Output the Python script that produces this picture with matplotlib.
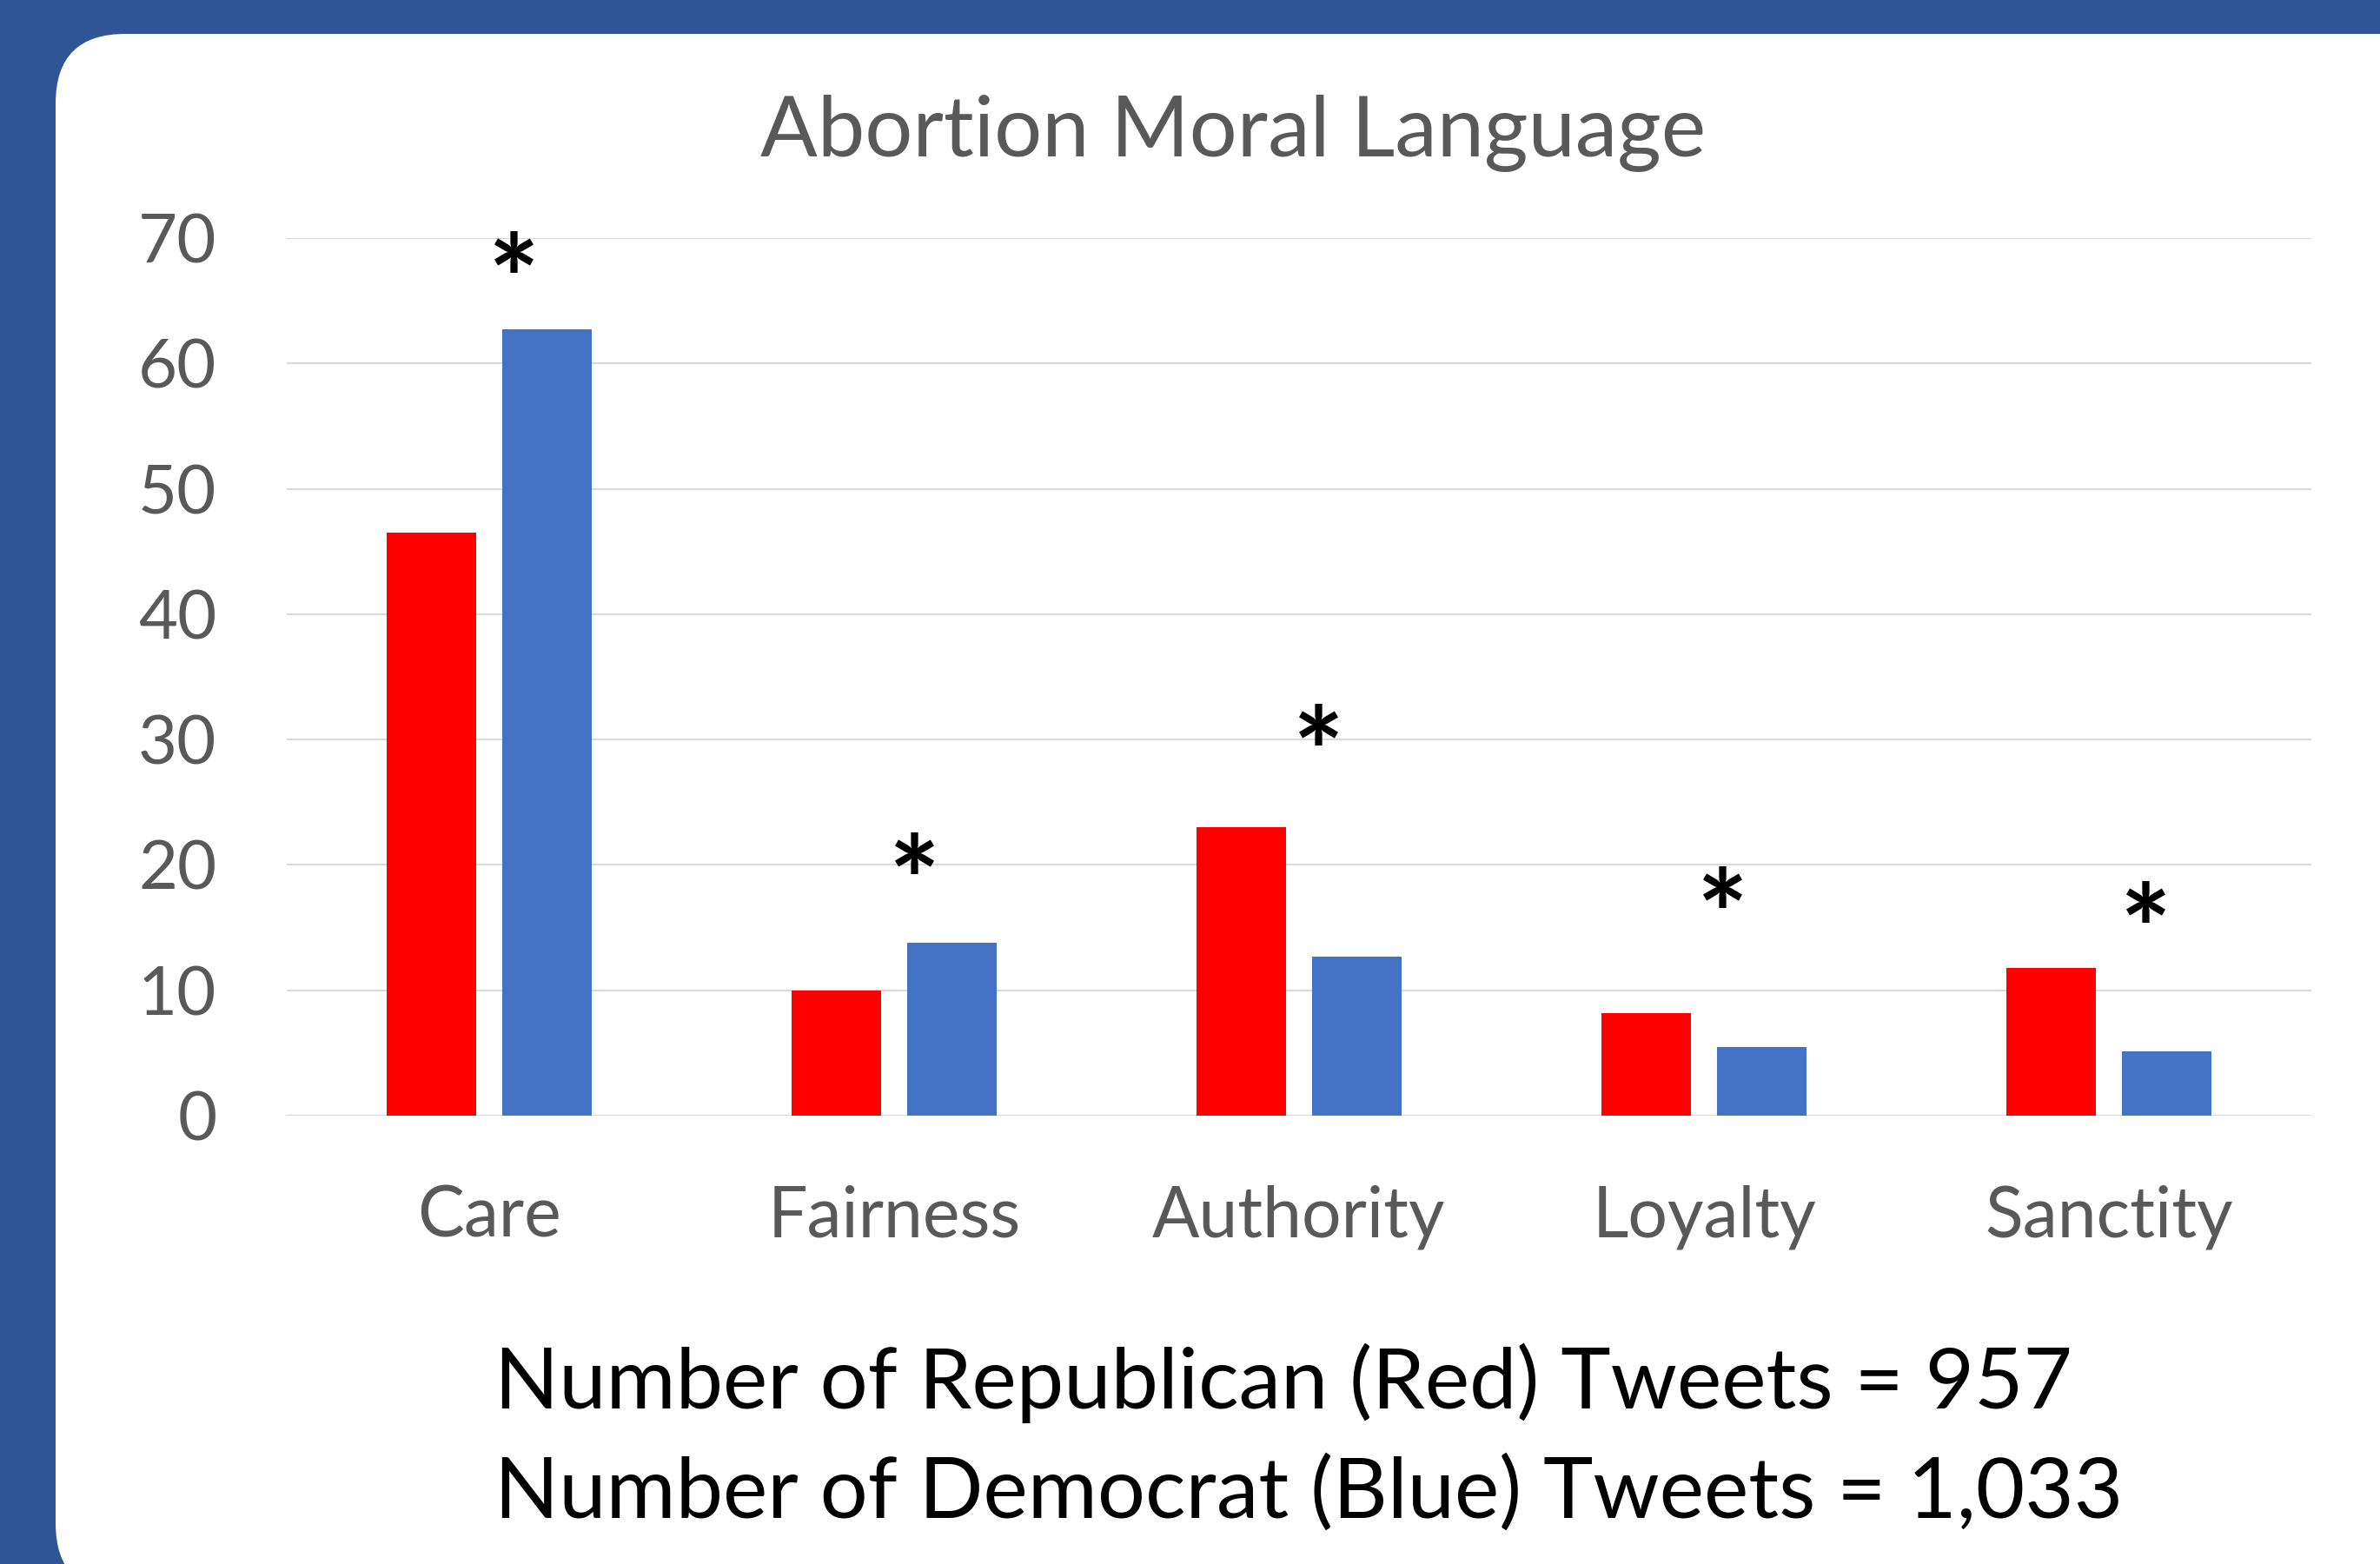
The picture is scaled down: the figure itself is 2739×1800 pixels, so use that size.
import matplotlib
matplotlib.use('Agg')
import matplotlib.pyplot as plt
from matplotlib.patches import FancyBboxPatch
from matplotlib import transforms
import numpy as np

plt.rcParams['font.family'] = ['Lato', 'DejaVu Sans']

# moral foundation word counts per party
categories = ['Care', 'Fairness', 'Authority', 'Loyalty', 'Sanctity']
republican = [46.5, 10.0, 23.0, 8.2, 11.8]
democrat = [62.7, 13.8, 12.7, 5.5, 5.1]

# significance markers (x offset from category centre, y in data units)
star_dx = [0.062, 0.051, 0.049, 0.047, 0.092]
star_y = [68.8, 20.9, 31.1, 18.2, 17.0]

yticks = [0, 10, 20, 30, 40, 50, 60, 70]

title = 'Abortion Moral Language'
note_lines = ['Number of Republican (Red) Tweets = 957',
              'Number of Democrat (Blue) Tweets = 1,033']

W, H = 2739, 1800
fig = plt.figure(figsize=(W / 200, H / 200), dpi=200)
fig.patch.set_facecolor('#2F5597')

# white rounded card behind the chart
bg = fig.add_axes([0, 0, 1, 1])
bg.set_xlim(0, W)
bg.set_ylim(H, 0)
bg.axis('off')
bg.add_patch(FancyBboxPatch((64, 39), 2800, 1794,
                            boxstyle='round,pad=0,rounding_size=80',
                            facecolor='white', edgecolor='none'))

# plot area in pixels: left 330, right 2660, zero line 1284, top line 274
ax = fig.add_axes([330 / W, 1 - 1284 / H, 2330 / W, 1010 / H])
ax.set_facecolor('none')

x = np.arange(len(categories))
bw = 0.221
off = 0.142
ax.bar(x - off, republican, bw, color='#FF0000', zorder=3)
ax.bar(x + off, democrat, bw, color='#4472C4', zorder=3)

ax.set_xlim(-0.5, len(categories) - 0.5)
ax.set_ylim(0, 70)
ax.set_yticks(yticks)
ax.set_yticklabels([str(t) for t in yticks], fontsize=28, color='#595959')
ax.set_xticks([])
ax.tick_params(axis='y', length=0, pad=29)
ax.yaxis.grid(True, color='#D9D9D9', lw=0.8, zorder=0)
ax.set_axisbelow(True)
for s in ax.spines.values():
    s.set_visible(False)

# category labels
tr = transforms.blended_transform_factory(ax.transData, fig.transFigure)
for i, c in enumerate(categories):
    ax.text(i, 1 - 1424 / H, c, transform=tr, ha='center', va='baseline',
            fontsize=29, color='#595959')

# asterisks (the glyph sits high in its box, so pull it down a bit)
star_fs = 50
for i in range(len(categories)):
    ax.annotate('*', (i + star_dx[i], star_y[i]),
                xytext=(0, -0.3 * star_fs), textcoords='offset points',
                ha='center', va='center', fontsize=star_fs,
                fontweight='bold', color='black', zorder=4)

fig.text(1419 / W, 1 - 180 / H, title, ha='center', va='baseline',
         fontsize=35, color='#595959')

fig.text(569 / W, 1 - 1621 / H, note_lines[0], ha='left', va='baseline',
         fontsize=35, color='black')
fig.text(569 / W, 1 - 1747 / H, note_lines[1], ha='left', va='baseline',
         fontsize=35, color='black')

fig.savefig('out.png', dpi=200, facecolor=fig.get_facecolor())
